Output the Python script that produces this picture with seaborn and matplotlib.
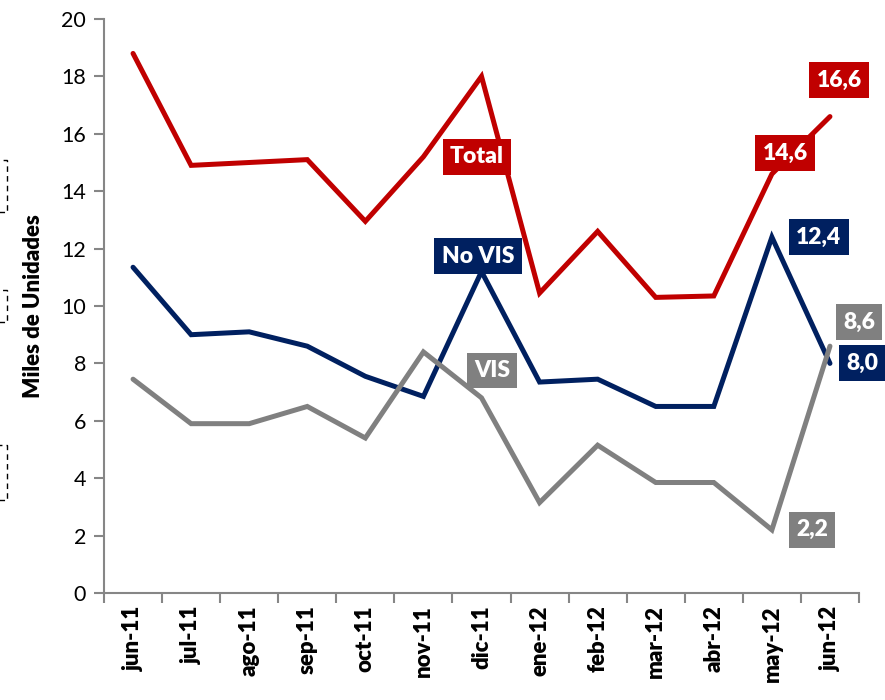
import matplotlib
matplotlib.use("Agg")
import matplotlib.pyplot as plt
import seaborn as sns
import pandas as pd
import numpy as np
from matplotlib.patches import Rectangle

months = ["jun-11", "jul-11", "ago-11", "sep-11", "oct-11", "nov-11", "dic-11",
          "ene-12", "feb-12", "mar-12", "abr-12", "may-12", "jun-12"]
total = [18.8, 14.9, 15.0, 15.1, 12.95, 15.2, 18.0, 10.45, 12.6, 10.3, 10.35, 14.6, 16.6]
no_vis = [11.35, 9.0, 9.1, 8.6, 7.55, 6.85, 11.2, 7.35, 7.45, 6.5, 6.5, 12.4, 8.0]
vis = [7.45, 5.9, 5.9, 6.5, 5.4, 8.4, 6.8, 3.15, 5.15, 3.85, 3.85, 2.2, 8.6]

series_names = ["Total", "No VIS", "VIS"]
colors = {"Total": "#C00000", "No VIS": "#002060", "VIS": "#808080"}

rows = []
for name, vals in zip(series_names, [total, no_vis, vis]):
    for i, (m, v) in enumerate(zip(months, vals)):
        rows.append({"idx": i, "mes": m, "serie": name, "valor": v})
df = pd.DataFrame(rows)

sns.set_theme(style="white")
plt.rcParams["font.family"] = ["Lato", "DejaVu Sans"]
plt.rcParams["text.color"] = "black"
plt.rcParams["xtick.color"] = "black"
plt.rcParams["ytick.color"] = "black"
plt.rcParams["axes.labelcolor"] = "black"

fig = plt.figure(figsize=(8.85, 7.0), dpi=100)
ax = fig.add_axes([104 / 885, 107 / 700, (859 - 104) / 885, (593 - 19) / 700])

sns.lineplot(data=df, x="idx", y="valor", hue="serie", palette=colors,
             hue_order=series_names, linewidth=3.6, ax=ax, legend=False,
             solid_capstyle="round", solid_joinstyle="miter")

ax.set_xlim(-0.5, len(months) - 0.5)
ax.set_ylim(0, 20)
ax.set_yticks(np.arange(0, 21, 2))
ax.set_yticklabels([str(int(v)) for v in np.arange(0, 21, 2)], fontsize=15.5)
ax.set_xticks(np.arange(-0.5, len(months), 1.0))
ax.set_xticklabels([])
ax.set_xticks(np.arange(len(months)), minor=True)
ax.set_xticklabels(months, minor=True, rotation=90, fontsize=16, fontweight="heavy")
ax.tick_params(axis="x", which="major", length=7, width=1.5, color="#868686", direction="out", bottom=True)
ax.tick_params(axis="x", which="minor", length=0, pad=9, bottom=True)
ax.tick_params(axis="y", length=7, width=1.5, color="#868686", direction="out", left=True, pad=6)
ax.set_xlabel("")
ax.set_ylabel("Miles de Unidades", fontsize=16, fontweight="heavy", labelpad=12)

for side in ["top", "right"]:
    ax.spines[side].set_visible(False)
for side in ["left", "bottom"]:
    ax.spines[side].set_color("#868686")
    ax.spines[side].set_linewidth(1.5)

def box(x, y, text, color):
    ax.text(x, y, text, ha="center", va="center", color="white", fontsize=16.5,
            fontweight="heavy", clip_on=False, zorder=5,
            bbox=dict(boxstyle="square,pad=0.32", facecolor=color, edgecolor="none"))

fmt = lambda v: f"{v:.1f}".replace(".", ",")

box(5.92, 15.2, "Total", colors["Total"])
box(5.94, 11.74, "No VIS", colors["No VIS"])
box(6.18, 7.75, "VIS", colors["VIS"])
box(12.16, 17.87, fmt(total[-1]), colors["Total"])
box(11.23, 15.33, fmt(total[-2]), colors["Total"])
box(11.81, 12.4, fmt(no_vis[-2]), colors["No VIS"])
box(12.5, 9.44, fmt(vis[-1]), colors["VIS"])
box(12.55, 8.01, fmt(no_vis[-1]), colors["No VIS"])
box(11.69, 2.2, fmt(vis[-2]), colors["VIS"])

# dashed partial boxes at left edge
for top, bot in [(160, 212), (290, 322), (445, 500)]:
    r = Rectangle((-10 / 885, 1 - bot / 700), 17 / 885, (bot - top) / 700,
                  transform=fig.transFigure, fill=False, edgecolor="black",
                  linestyle=(0, (4, 3)), linewidth=1.0)
    fig.patches.append(r)

fig.savefig("out.png", dpi=100)
